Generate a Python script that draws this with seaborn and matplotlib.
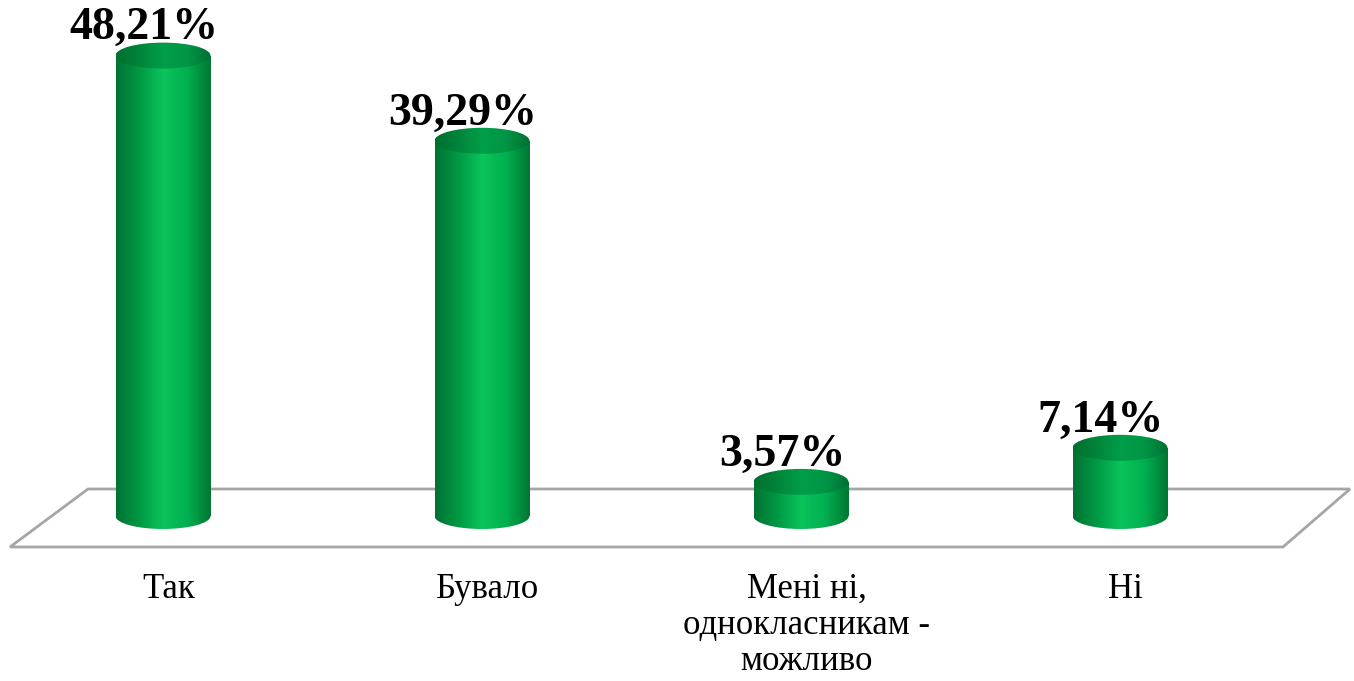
import numpy as np
import matplotlib
matplotlib.use("Agg")
import matplotlib.pyplot as plt
import seaborn as sns
from matplotlib.colors import LinearSegmentedColormap
from matplotlib.patches import Ellipse, Polygon

# data
categories = ["Так", "Бувало", "Мені ні,\nоднокласникам -\nможливо", "Ні"]
values = [48.21, 39.29, 3.57, 7.14]
value_labels = [f"{v:.2f}%".replace(".", ",") for v in values]

sns.set_theme(style="white")
plt.rcParams["font.family"] = ["Liberation Serif", "DejaVu Serif"]

W, H = 1354, 681
fig = plt.figure(figsize=(W / 100, H / 100), dpi=100)
ax = fig.add_axes([0, 0, 1, 1])

# pixel -> data helpers (bar spacing 319 px, 9.55 px per percent)
def px2x(px):
    return (px - 163) / 319.0

def py2v(py):
    return (516 - py) / 9.55

bar_w = 95 / 319.0
ell_h = 26 / 9.55

body_cmap = LinearSegmentedColormap.from_list(
    "body", ["#007232", "#009A44", "#0BC45C", "#00B050", "#007633"])
top_cmap = LinearSegmentedColormap.from_list(
    "top", ["#006E2E", "#00853B", "#009E48", "#009646", "#007031"])
grad = np.linspace(0, 1, 256).reshape(1, -1)

# floor
floor = Polygon([(px2x(88), py2v(489)), (px2x(1350), py2v(489)),
                 (px2x(1283), py2v(547)), (px2x(10), py2v(547))],
                closed=True, facecolor="white", edgecolor="#A6A6A6",
                linewidth=2.0, zorder=0)
ax.add_patch(floor)

sns.barplot(x=categories, y=values, width=bar_w, ax=ax, color="#00B050",
            zorder=2)

for i, patch in enumerate(list(ax.patches)):
    if patch is floor:
        continue
    x0, w, h = patch.get_x(), patch.get_width(), patch.get_height()
    cx = x0 + w / 2
    patch.set_facecolor("none")
    patch.set_edgecolor("none")
    # body
    im = ax.imshow(grad, cmap=body_cmap, aspect="auto",
                   extent=[x0, x0 + w, 0, h], zorder=3)
    im.set_clip_path(patch)
    # bottom cap
    bot = Ellipse((cx, 0), w, ell_h, facecolor="none", edgecolor="none")
    ax.add_patch(bot)
    im2 = ax.imshow(grad, cmap=body_cmap, aspect="auto",
                    extent=[x0, x0 + w, -ell_h, ell_h], zorder=3)
    im2.set_clip_path(bot)
    # top cap
    top = Ellipse((cx, h), w, ell_h, facecolor="none", edgecolor="none")
    ax.add_patch(top)
    im3 = ax.imshow(grad, cmap=top_cmap, aspect="auto",
                    extent=[x0, x0 + w, h - ell_h, h + ell_h], zorder=4)
    im3.set_clip_path(top)

for i, (v, lab) in enumerate(zip(values, value_labels)):
    ax.text(i - 0.06, v + ell_h / 2 + 0.35, lab, ha="center", va="baseline",
            fontsize=33, fontweight="bold", color="black", zorder=5)

for i, cat in enumerate(categories):
    ax.text(i + 0.018, py2v(573), cat, ha="center", va="top", fontsize=25,
            color="black", linespacing=1.13, zorder=5)

ax.set_xlim(px2x(0), px2x(W))
ax.set_ylim(py2v(H), py2v(0))
ax.axis("off")

fig.savefig("out.png", dpi=100)
